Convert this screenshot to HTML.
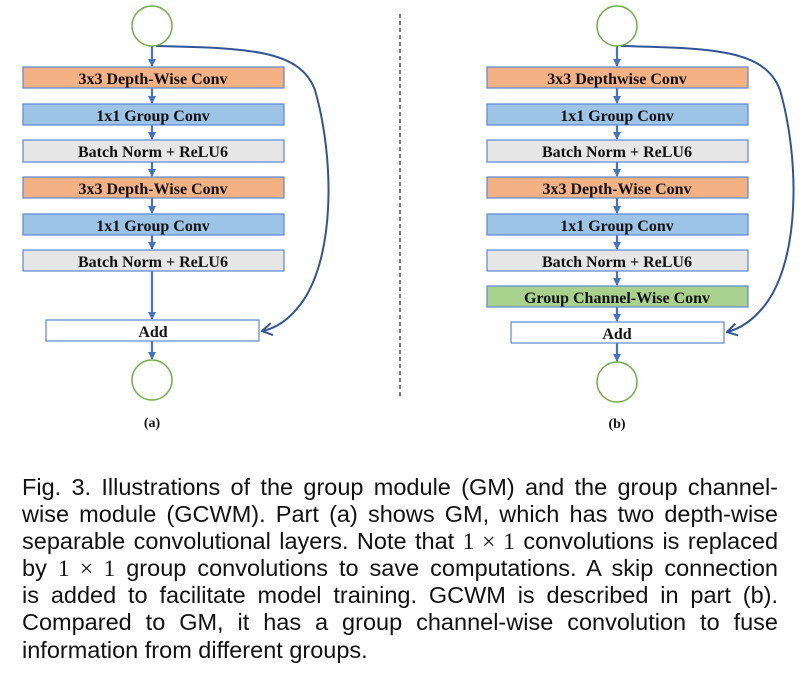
<!DOCTYPE html>
<html><head><meta charset="utf-8"><style>
body{margin:0;background:#fff;width:800px;height:673px;overflow:hidden;position:relative}
svg{position:absolute;left:0;top:0}
.cap{position:absolute;left:22px;width:756px;font-family:"Liberation Sans",sans-serif;font-size:23.5px;color:#111;top:473.5px;line-height:27.2px}
.cap div{text-align:justify;text-align-last:justify;white-space:nowrap;height:27.2px}
.cap div.l{text-align-last:left}
.m{font-family:"Liberation Serif",serif;font-size:23.5px}
</style></head><body>
<svg width="800" height="673" viewBox="0 0 800 673" font-family="Liberation Serif,serif" font-weight="bold" font-size="16">
<defs><marker id="ah" markerWidth="8" markerHeight="8" refX="7" refY="4" orient="auto" markerUnits="userSpaceOnUse"><path d="M0,0 L8,4 L0,8 z" fill="#4472c4"/></marker>
<marker id="oh" markerWidth="14" markerHeight="14" refX="13" refY="7" orient="auto" markerUnits="userSpaceOnUse"><path d="M3,1 L13,7 L3,13" fill="none" stroke="#2f5597" stroke-width="2"/></marker></defs>
<g stroke="#4472c4" stroke-width="2.2" marker-end="url(#ah)">
<line x1="152" y1="46" x2="152" y2="66"/><line x1="152" y1="88" x2="152" y2="103"/><line x1="152" y1="125" x2="152" y2="139"/><line x1="152" y1="162" x2="152" y2="176"/><line x1="152" y1="198" x2="152" y2="213"/><line x1="152" y1="235" x2="152" y2="249"/><line x1="152" y1="271" x2="152" y2="319"/><line x1="152" y1="341" x2="152" y2="359"/>
<line x1="617" y1="46" x2="617" y2="66"/><line x1="617" y1="88" x2="617" y2="103"/><line x1="617" y1="125" x2="617" y2="139"/><line x1="617" y1="162" x2="617" y2="176"/><line x1="617" y1="198" x2="617" y2="213"/><line x1="617" y1="235" x2="617" y2="249"/><line x1="617" y1="271" x2="617" y2="285"/><line x1="617" y1="307" x2="617" y2="321"/><line x1="617" y1="343" x2="617" y2="361"/>
</g>
<g stroke="#2f5597" stroke-width="2" fill="none" marker-end="url(#oh)">
<path d="M156,46 C250,48 300,50 315,90 C335,160 335,260 300,305 C290,318 278,328 262,331"/>
<path d="M621,46 C715,48 765,50 780,90 C800,160 800,260 765,305 C755,318 743,328 727,332"/>
</g>
<g fill="none" stroke="#70ad47" stroke-width="1.5"><circle cx="152" cy="26" r="20"/><circle cx="152" cy="380" r="20"/><circle cx="617" cy="26" r="20"/><circle cx="617" cy="382" r="20"/></g>
<line x1="400" y1="14" x2="400" y2="398" stroke="#222" stroke-width="1.2" stroke-dasharray="4,3"/>
<g stroke="#5b86d6" stroke-width="1.2">
<rect x="23" y="67" width="261" height="21" fill="#f4b183"/><rect x="23" y="104" width="261" height="21" fill="#9dc3e6"/><rect x="23" y="140" width="261" height="22" fill="#e7e6e6"/><rect x="23" y="177" width="261" height="21" fill="#f4b183"/><rect x="23" y="214" width="261" height="21" fill="#9dc3e6"/><rect x="23" y="250" width="261" height="21" fill="#e7e6e6"/><rect x="46" y="320" width="213" height="21" fill="#fff"/>
<rect x="487" y="67" width="261" height="21" fill="#f4b183"/><rect x="487" y="104" width="261" height="21" fill="#9dc3e6"/><rect x="487" y="140" width="261" height="22" fill="#e7e6e6"/><rect x="487" y="177" width="261" height="21" fill="#f4b183"/><rect x="487" y="214" width="261" height="21" fill="#9dc3e6"/><rect x="487" y="250" width="261" height="21" fill="#e7e6e6"/><rect x="487" y="286" width="261" height="21" fill="#a9d18e"/><rect x="511" y="322" width="213" height="21" fill="#fff"/>
</g>
<g text-anchor="middle" fill="#111">
<text x="153" y="84">3x3 Depth-Wise Conv</text><text x="153" y="121">1x1 Group Conv</text><text x="153" y="157">Batch Norm + ReLU6</text><text x="153" y="194">3x3 Depth-Wise Conv</text><text x="153" y="231">1x1 Group Conv</text><text x="153" y="267">Batch Norm + ReLU6</text><text x="153" y="337">Add</text><text x="152" y="427" font-size="14">(a)</text>
<text x="617" y="84">3x3 Depthwise Conv</text><text x="617" y="121">1x1 Group Conv</text><text x="617" y="157">Batch Norm + ReLU6</text><text x="617" y="194">3x3 Depth-Wise Conv</text><text x="617" y="231">1x1 Group Conv</text><text x="617" y="267">Batch Norm + ReLU6</text><text x="617" y="303">Group Channel-Wise Conv</text><text x="617" y="339">Add</text><text x="617" y="428" font-size="14">(b)</text>
</g>
</svg>
<div class="cap">
<div>Fig. 3. Illustrations of the group module (GM) and the group channel-</div>
<div>wise module (GCWM). Part (a) shows GM, which has two depth-wise</div>
<div>separable convolutional layers. Note that <span class="m">1 × 1</span> convolutions is replaced</div>
<div>by <span class="m">1 × 1</span> group convolutions to save computations. A skip connection</div>
<div>is added to facilitate model training. GCWM is described in part (b).</div>
<div>Compared to GM, it has a group channel-wise convolution to fuse</div>
<div class="l">information from different groups.</div>
</div>
</body></html>
